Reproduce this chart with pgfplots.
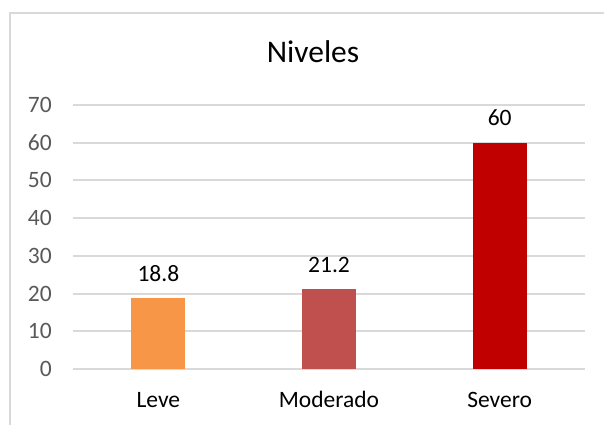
\documentclass[border=0pt]{standalone}
\usepackage{pgfplots}
\pgfplotsset{compat=1.18}
\usepackage{fontspec}
\setmainfont{Carlito}
\definecolor{leve}{HTML}{F79646}
\definecolor{moderado}{HTML}{C0504D}
\definecolor{severo}{HTML}{C00000}
\definecolor{gridc}{HTML}{D9D9D9}
\definecolor{ticklab}{HTML}{595959}
\begin{document}
\begin{tikzpicture}[x=1pt,y=1pt]
\useasboundingbox (0,0) rectangle (604,424);
\clip (0,0) rectangle (604,424);
\draw[color=gridc, line width=1.6pt] (10,-10) -- (10,411) -- (620,411);
\node[anchor=base, inner sep=0pt, font=\fontsize{31.5}{36}\selectfont] at (313,361) {Niveles};
\begin{axis}[
  at={(73pt,55pt)}, anchor=south west,
  scale only axis, width=512pt, height=264pt,
  xmin=-0.5, xmax=2.5, ymin=0, ymax=70,
  enlargelimits=false,
  ytick={0,10,...,70},
  xtick={0,1,2}, xticklabels={Leve,Moderado,Severo},
  axis line style={draw=none},
  tick style={draw=none},
  major tick length=0pt,
  ymajorgrids, grid style={color=gridc, line width=2pt},
  /pgf/number format/assume math mode=true,
  yticklabel style={font=\fontsize{23.5}{27}\selectfont, text=ticklab, inner sep=0pt, anchor=east, xshift=-21pt},
  xticklabel style={font=\fontsize{23.5}{27}\selectfont, text=black, inner sep=0pt, anchor=base, yshift=-38pt},
  nodes near coords,
  every node near coord/.append style={font=\fontsize{23.5}{27}\selectfont, text=black, inner sep=0pt, anchor=base, yshift=17pt},
  clip=false,
]
\addplot[ybar, bar width=54pt, bar shift=0pt, fill=leve, draw=none] coordinates {(0,18.8)};
\addplot[ybar, bar width=54pt, bar shift=0pt, fill=moderado, draw=none] coordinates {(1,21.2)};
\addplot[ybar, bar width=54pt, bar shift=0pt, fill=severo, draw=none] coordinates {(2,60)};
\end{axis}
\end{tikzpicture}
\end{document}
